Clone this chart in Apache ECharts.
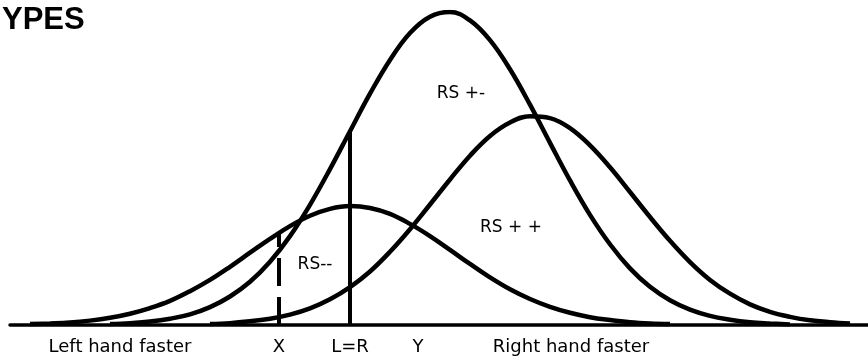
<!DOCTYPE html>
<html>
<head>
<meta charset="utf-8">
<title>RS types</title>
<script src="https://cdn.jsdelivr.net/npm/echarts@6/dist/echarts.min.js"></script>
<style>
    html, body {margin: 0; padding: 0; background: #fff;}
    #chart {width: 868px; height: 364px;}
</style>
</head>
<body>
<div id="chart"></div>
<script>
// sample positions along the L-R axis (0 = L=R)
var xs = [-32, -30, -28, -26, -24, -22, -20, -18, -16, -14, -12, -10, -8, -6, -4, -2, 0, 2, 4, 6, 8,
          10, 12, 14, 16, 18, 20, 22, 24, 26, 28, 30, 32, 34, 36, 38, 40, 42, 44, 46, 48, 50];

// curve heights (null = curve not drawn there)
var rsMinusMinus = [0.3, 0.5, 0.8, 1.4, 2.3, 3.6, 5.4, 7.7, 10.8, 14.4, 18.6, 23.1, 27.5, 31.6, 34.9, 37.1,
                    38.0, 37.4, 35.5, 32.3, 28.4, 24.0, 19.5, 15.2, 11.4, 8.3, 5.8, 3.9, 2.5, 1.6, 0.9, 0.5, 0.3,
                    null, null, null, null, null, null, null, null, null];
var rsPlusMinus = [null, null, null, null, 0.3, 0.6, 1.1, 2.0, 3.4, 5.7, 9.1, 13.8, 20.2, 28.4, 38.4, 49.8,
                   61.9, 73.9, 84.7, 93.3, 98.5, 100, 97.3, 91.0, 81.7, 70.4, 58.2, 46.2, 35.2, 25.8, 18.1, 12.2,
                   7.9, 4.9, 2.9, 1.7, 0.9, 0.5, 0.2, null, null, null];
var rsPlusPlus = [null, null, null, null, null, null, null, null, null, 0.3, 0.6, 1.2, 2.0, 3.3, 5.3, 8.2,
                  12.1, 17.1, 23.4, 30.6, 38.5, 46.5, 54.1, 60.4, 64.7, 66.7, 66.1, 62.9, 57.4, 50.4, 42.5, 34.5,
                  26.9, 20.1, 14.4, 10.0, 6.6, 4.2, 2.6, 1.5, 0.9, 0.5];

var curveNames = ['RS--', 'RS +-', 'RS + +'];
var curveLabelX = [-3.5, 11.1, 16.1];
var curveLabelY = [19.2, 73.8, 31.0];

// X cut-off (dashed) and L=R (solid)
var markerX = [-7.1, 0];
var markerTop = [29.3, 61.9];

var tickValues = [-23, -7.1, 0, 6.8, 22.1];
var tickLabels = ['Left hand faster', 'X', 'L=R', 'Y', 'Right hand faster'];

function toPairs(vals){
    var out = [];
    for (var i = 0; i < xs.length; i++) {
        if (vals[i] !== null) out.push([xs[i], vals[i]]);
    }
    return out;
}

function curve(name, vals){
    return {
        name: name,
        type: 'line',
        smooth: 0.4,
        showSymbol: false,
        silent: true,
        lineStyle: {color: '#000', width: 4.5},
        data: toPairs(vals)
    };
}

function marker(i, dashed){
    return {
        type: 'line',
        showSymbol: false,
        silent: true,
        lineStyle: {color: '#000', width: 4, type: dashed ? [28, 11] : 'solid'},
        data: [[markerX[i], 0], [markerX[i], markerTop[i]]]
    };
}

var labelData = curveNames.map(function(n, i){
    return {name: n, value: [curveLabelX[i], curveLabelY[i]]};
});

var myChart = echarts.init(document.getElementById('chart'));
myChart.setOption({
    animation: false,
    title: {
        text: 'YPES',
        left: 2,
        top: 5,
        padding: 0,
        textStyle: {fontFamily: 'Liberation Sans', fontSize: 31, fontWeight: 'bold', color: '#000'}
    },
    grid: {left: 10, right: 0, top: 12, bottom: 39, outerBoundsMode: 'none'},
    xAxis: {
        type: 'value',
        min: -34,
        max: 51.8,
        axisLine: {show: true, onZero: false, lineStyle: {color: '#000', width: 3.5}},
        axisTick: {show: false},
        splitLine: {show: false},
        axisLabel: {
            customValues: tickValues,
            margin: 13,
            color: '#000',
            fontFamily: 'DejaVu Sans',
            fontSize: 18,
            formatter: function(v){
                var best = 0;
                for (var i = 1; i < tickValues.length; i++) {
                    if (Math.abs(tickValues[i] - v) < Math.abs(tickValues[best] - v)) best = i;
                }
                return tickLabels[best];
            }
        }
    },
    yAxis: {type: 'value', min: 0, max: 100, show: false},
    series: [
        curve(curveNames[0], rsMinusMinus),
        curve(curveNames[1], rsPlusMinus),
        curve(curveNames[2], rsPlusPlus),
        marker(0, true),
        marker(1, false),
        {
            type: 'scatter',
            silent: true,
            symbolSize: 1,
            itemStyle: {color: '#fff', opacity: 1},
            label: {
                show: true,
                position: 'inside',
                formatter: '{b}',
                color: '#000',
                opacity: 1,
                textBorderWidth: 0,
                fontFamily: 'DejaVu Sans',
                fontSize: 17
            },
            data: labelData
        }
    ]
});
</script>
</body>
</html>
